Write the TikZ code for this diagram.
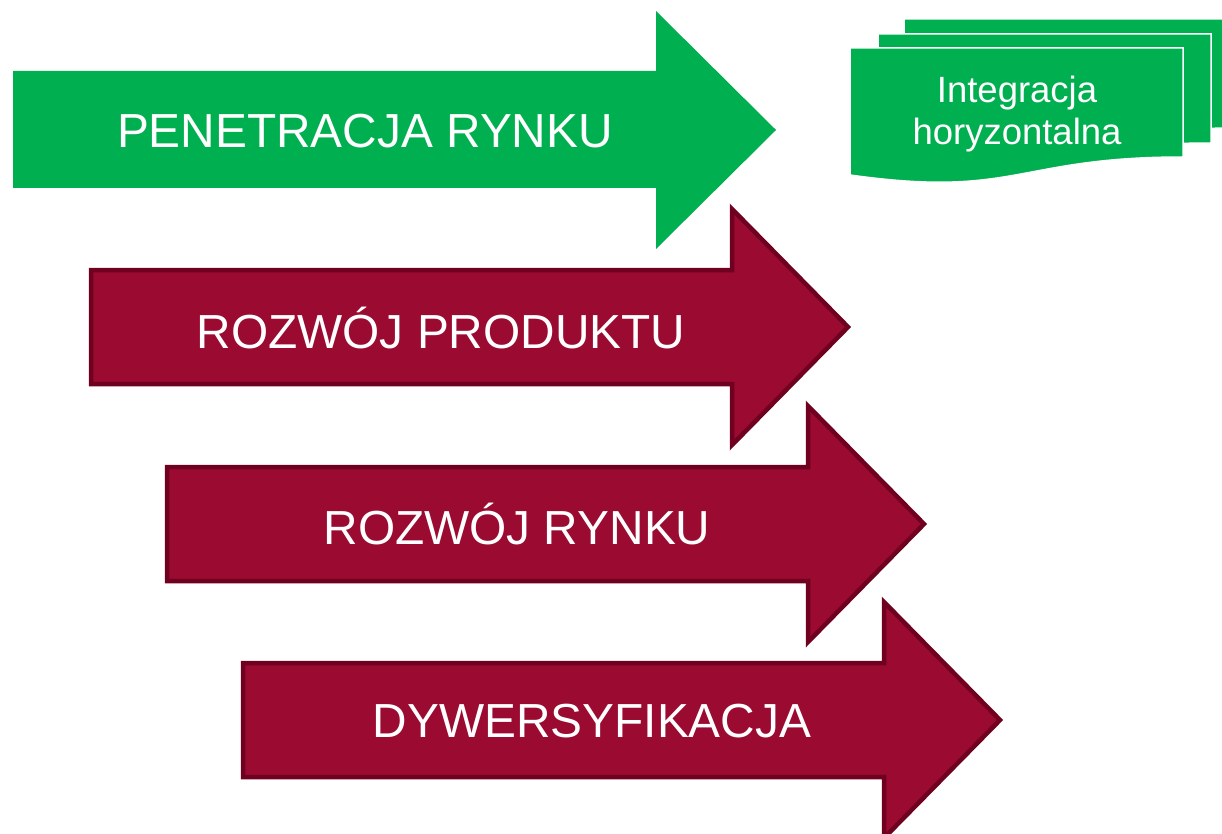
\documentclass[tikz,border=0pt]{standalone}
\usepackage{fontspec}
\setmainfont{Liberation Sans}
\definecolor{pgreen}{RGB}{0,176,80}
\definecolor{pred}{RGB}{155,10,48}
\definecolor{predline}{RGB}{112,0,32}
\tikzset{
  greenarrow/.style={fill=pgreen, draw=none},
  redarrow/.style={fill=pred, draw=predline, line width=4.5pt, line join=miter},
  doc/.style={fill=pgreen, draw=white, line width=1.5pt},
  bigtext/.style={text=white, font=\fontsize{47.8}{56}\selectfont, inner sep=0pt},
  doctext/.style={text=white, font=\fontsize{36.5}{42}\selectfont, align=center, inner sep=0pt}
}
\newcommand\arrowpath{(0,0) -- (643,0) -- (643,-60) -- (763,59) -- (643,178) -- (643,117) -- (0,117) -- cycle}
\newcommand\redpath{(0,0) -- (641,0) -- (641,-61) -- (757,57) -- (641,175) -- (641,114) -- (0,114) -- cycle}
\newcommand\docpath{(0,0) -- (333,0) -- (333,109) .. controls (166.5,109) and (166.5,150.5) .. (0,127) -- cycle}
\begin{document}
\begin{tikzpicture}[x=1pt,y=-1pt]
\useasboundingbox (0,0) rectangle (1222,834);
\clip (0,0) rectangle (1222,834);
% arrows
\path[greenarrow, shift={(13,71)}] \arrowpath;
\path[redarrow, shift={(91,270)}] \redpath;
\path[redarrow, shift={(167,467)}] \redpath;
\path[redarrow, shift={(243,663)}] \redpath;
% labels
\node[bigtext] (pen) at (365,131) {PENETRACJA RYNKU};
\node[bigtext] (prod) at (441,328) {ROZWÓJ PRODUKTU};
\node[bigtext] (ryn) at (517,524) {ROZWÓJ RYNKU};
\node[bigtext] (dyw) at (592,721) {DYWERSYFIKACJA};
% multi-document
\path[doc, shift={(904,19)}] \docpath;
\path[doc, shift={(878,34)}] \docpath;
\path[doc, shift={(850,48)}] \docpath;
\node[doctext] (integ) at (1017,114) {Integracja\\horyzontalna};
\end{tikzpicture}
\end{document}
